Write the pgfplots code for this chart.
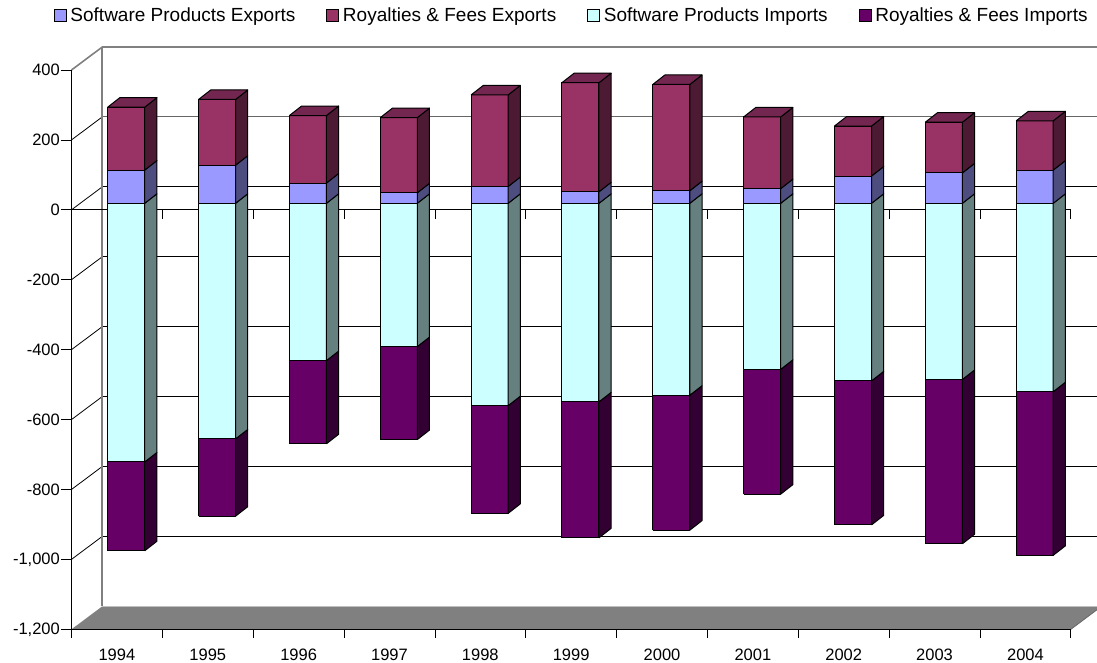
\documentclass[border=0pt]{standalone}
\usepackage{fontspec}
\setmainfont{Liberation Sans}
\usepackage{pgfplots}
\usepackage{pgfplotstable}
\pgfplotsset{compat=1.18}

\definecolor{spx}{HTML}{9999FF}
\definecolor{spxside}{HTML}{4D4D80}
\definecolor{rfx}{HTML}{993366}
\definecolor{rfxside}{HTML}{4D1A33}
\definecolor{rfxtop}{HTML}{732650}
\definecolor{spi}{HTML}{CCFFFF}
\definecolor{spiside}{HTML}{668080}
\definecolor{rfi}{HTML}{660066}
\definecolor{rfiside}{HTML}{330033}

% values
\pgfplotstableread{
year spx rfx spi rfi
1994 95 180 -740 -254
1995 109 188 -674 -221
1996 58 193 -450 -238
1997 30 215 -410 -266
1998 48 262 -579 -308
1999 33 312 -568 -389
2000 36 304 -549 -386
2001 42 205 -475 -357
2002 78 143 -508 -412
2003 87 145 -504 -470
2004 95 141 -539 -468
}\bars

% depth of the box and of one bar, in axis units
\def\wallDx{0.339}
\def\wallDy{65.8}
\def\barDx{0.134}
\def\barDy{27.2}
\def\barL{0.398}
\def\barR{0.806}
\def\barZero{18.6}

\newcommand{\barbox}[6]{% position, low, high, front, side, top
  \pgfmathsetmacro\xa{#1+\barL}\pgfmathsetmacro\xb{#1+\barR}
  \pgfmathsetmacro\xc{\xb+\barDx}\pgfmathsetmacro\xd{\xa+\barDx}
  \pgfmathsetmacro\ya{#2+\barZero}\pgfmathsetmacro\yb{#3+\barZero}
  \pgfmathsetmacro\yc{\ya+\barDy}\pgfmathsetmacro\yd{\yb+\barDy}
  \addplot[forget plot,bar edge,fill=#4] coordinates {(\xa,\ya)(\xb,\ya)(\xb,\yb)(\xa,\yb)(\xa,\ya)};
  \addplot[forget plot,bar edge,fill=#5] coordinates {(\xb,\ya)(\xc,\yc)(\xc,\yd)(\xb,\yb)(\xb,\ya)};
  \ifx\relax#6\relax\else
    \addplot[forget plot,bar edge,fill=#6] coordinates {(\xa,\yb)(\xb,\yb)(\xc,\yd)(\xd,\yd)(\xa,\yb)};
  \fi
}

\pgfplotsset{
  bar edge/.style={draw=black,line width=1pt,line join=round},
  swatch/.style={legend image code/.code={\draw[##1,line width=0.8pt] (0pt,-6pt) rectangle (12pt,6pt);\path (14pt,0pt);}},
}

\begin{document}
\begin{tikzpicture}
\path[use as bounding box] (-71.5pt,-33.7pt) rectangle (1025.5pt,629.3pt);
\begin{axis}[
    scale only axis,
    width=1025.5pt,
    height=582.3pt,
    xmin=0, xmax=11.288,
    ymin=-1200, ymax=465.8,
    clip=false,
    axis line style={draw=none},
    tick align=outside,
    xtick pos=bottom,
    ytick pos=left,
    ytick={-1200,-1000,...,400},
    xtick={0.5,1.5,...,10.5},
    xticklabels={1994,1995,1996,1997,1998,1999,2000,2001,2002,2003,2004},
    xtick style={draw=none},
    ytick style={draw=black,line width=0.8pt},
    major tick length=10pt,
    xticklabel style={yshift=-6pt},
    yticklabel style={inner xsep=1.5pt},
    tick label style={font=\fontsize{16.5}{19}\selectfont},
    /pgf/number format/assume math mode=true,
    /pgf/number format/1000 sep={,},
    legend columns=4,
    legend cell align=left,
    legend style={at={(axis description cs:-0.0174,1.0712)},anchor=north west,
      draw=none,fill=none,inner sep=0pt,font=\fontsize{19}{22}\selectfont,
      /tikz/column 2/.style={column sep=29pt},
      /tikz/column 4/.style={column sep=29pt},
      /tikz/column 6/.style={column sep=29pt}},
  ]
  \addlegendimage{swatch,fill=spx,draw=black}
  \addlegendentry{Software Products Exports}
  \addlegendimage{swatch,fill=rfx,draw=black}
  \addlegendentry{Royalties \& Fees Exports}
  \addlegendimage{swatch,fill=spi,draw=black}
  \addlegendentry{Software Products Imports}
  \addlegendimage{swatch,fill=rfi,draw=black}
  \addlegendentry{Royalties \& Fees Imports}

  % floor
  \addplot[forget plot,fill=gray,draw=none] coordinates {(0,-1200)(0.339,-1134.2)(11.288,-1134.2)(11.288,-1144)(11,-1200)(0,-1200)};
  \addplot[forget plot,draw=black!25,line width=1pt] coordinates {(0.339,-1134.2)(11.288,-1134.2)};
  \addplot[forget plot,draw=black,line width=1pt] coordinates {(0,-1200)(11,-1200)};
  \addplot[forget plot,draw=black!60,line width=0.8pt] coordinates {(11,-1200)(11.288,-1144)};
  \pgfplotsforeachungrouped \t in {0,1,...,11}{
    \addplot[forget plot,draw=black,line width=0.8pt] coordinates {(\t,-1200)(\t,-1225)};
  }

  % gridlines on side and back walls
  \pgfplotsforeachungrouped \v in {-1000,-800,...,200}{
    \pgfmathsetmacro\w{\v+\wallDy}
    \addplot[forget plot,draw=black,line width=0.8pt] coordinates {(0,\v)(\wallDx,\w)};
  }
  \pgfplotsforeachungrouped \v in {-1000,-800,...,0}{
    \pgfmathsetmacro\w{\v+\wallDy}
    \addplot[forget plot,draw=black,line width=0.8pt] coordinates {(\wallDx,\w)(11.288,\w)};
  }
  \addplot[forget plot,draw=black!60,line width=1.1pt] coordinates {(0.339,265.8)(11.288,265.8)};
  \addplot[forget plot,draw=gray,line width=1.6pt] coordinates {(0,400)(0.339,465.8)(11.288,465.8)};
  \addplot[forget plot,draw=gray,line width=1.6pt] coordinates {(0.339,465.8)(0.339,-1134.2)};

  % front axis and zero line with its ticks
  \addplot[forget plot,draw=black,line width=0.8pt] coordinates {(0,400)(0,-1200)};
  \addplot[forget plot,draw=black,line width=0.8pt] coordinates {(0,0)(11,0)};
  \pgfplotsforeachungrouped \t in {0,1,...,11}{
    \addplot[forget plot,draw=black,line width=0.8pt] coordinates {(\t,0)(\t,-25.7)};
  }

  % bars
  \pgfplotsforeachungrouped \r in {0,1,...,10}{
    \pgfplotstablegetelem{\r}{spx}\of\bars \let\vspx\pgfplotsretval
    \pgfplotstablegetelem{\r}{rfx}\of\bars \let\vrfx\pgfplotsretval
    \pgfplotstablegetelem{\r}{spi}\of\bars \let\vspi\pgfplotsretval
    \pgfplotstablegetelem{\r}{rfi}\of\bars \let\vrfi\pgfplotsretval
    \pgfmathsetmacro\totx{\vspx+\vrfx}
    \pgfmathsetmacro\toti{\vspi+\vrfi}
    \barbox{\r}{\toti}{\vspi}{rfi}{rfiside}{}
    \barbox{\r}{\vspi}{0}{spi}{spiside}{}
    \barbox{\r}{0}{\vspx}{spx}{spxside}{}
    \barbox{\r}{\vspx}{\totx}{rfx}{rfxside}{rfxtop}
  }
\end{axis}
\end{tikzpicture}
\end{document}
